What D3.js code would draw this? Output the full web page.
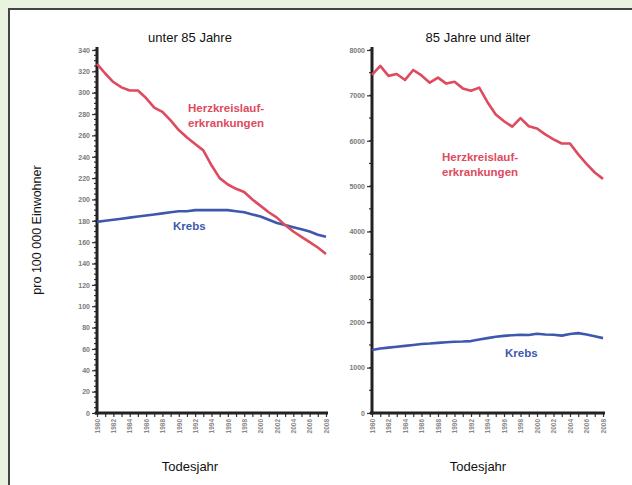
<!DOCTYPE html>
<html><head><meta charset="utf-8">
<script src="https://cdn.jsdelivr.net/npm/d3@7/dist/d3.min.js"></script>
<style>
body{margin:0;background:#e9f3df;}
svg{display:block;font-family:"Liberation Sans",Arial,sans-serif;}
</style></head><body>
<script>
const years = d3.range(1980, 2009);
const yearLabels = d3.range(1980, 2009, 2);
const under85Herz = [327,318,310,305,302,302,295,286,282,274,265,258,252,246,232,220,214,210,207,200,194,188,183,176,170,165,160,155,149];
const under85Krebs = [179,180,181,182,183,184,185,186,187,188,189,189,190,190,190,190,190,189,188,186,184,181,178,176,174,172,170,167,165];
const over85Herz = [7450,7650,7430,7470,7340,7560,7440,7280,7390,7260,7300,7154,7100,7170,6850,6580,6430,6310,6500,6320,6270,6140,6030,5940,5940,5700,5490,5300,5160];
const over85Krebs = [1390,1420,1440,1460,1480,1500,1520,1530,1545,1560,1570,1575,1585,1620,1650,1680,1700,1715,1725,1720,1745,1730,1725,1705,1740,1760,1730,1690,1650];
const leftTicks = d3.range(0, 341, 20);
const rightTicks = d3.range(0, 8001, 1000);

const W = 632, H = 485;
const svg = d3.select("body").append("svg").attr("width", W).attr("height", H);
svg.append("rect").attr("x",0).attr("y",0).attr("width",W).attr("height",H).attr("fill","#e9f3df");
svg.append("rect").attr("x",9).attr("y",9).attr("width",640).attr("height",500)
  .attr("fill","#fff").attr("stroke","#444").attr("stroke-width",2);

const RED = "#de4a5e", BLUE = "#3d58ad";

function panel(cfg){
  const x = d3.scaleLinear().domain([1980, 2008]).range([cfg.x0, cfg.x1]);
  const y = d3.scaleLinear().domain([0, cfg.max]).range([413, 50]);
  const g = svg.append("g");
  const minor = d3.range(0, cfg.max + 1, cfg.minor);
  g.selectAll(".mn").data(minor).join("line")
    .attr("x1", cfg.x0 - 3).attr("x2", cfg.x0).attr("y1", d=>y(d)).attr("y2", d=>y(d))
    .attr("stroke","#333").attr("stroke-width",1.2);
  const ya = d3.axisLeft(y).tickValues(cfg.ticks).tickSize(5).tickPadding(2).tickFormat(d3.format("d"));
  const yg = g.append("g").attr("transform",`translate(${cfg.x0},0)`).call(ya);
  yg.select(".domain").remove();
  yg.selectAll(".tick line").attr("stroke","#333").attr("stroke-width",1.2);
  yg.selectAll(".tick text").attr("fill","#7a7a7a").style("font-size","7px").style("font-weight","bold");
  const xa = d3.axisBottom(x).tickValues(years).tickSize(4).tickFormat(d => yearLabels.includes(d) ? d : "");
  const xg = g.append("g").attr("transform","translate(0,413)").call(xa);
  xg.select(".domain").remove();
  xg.selectAll(".tick line").attr("stroke","#333").attr("stroke-width",1.2);
  xg.selectAll(".tick text").attr("fill","#888").style("font-size","6.5px").style("font-weight","bold")
    .attr("transform","rotate(-90)").attr("text-anchor","end").attr("x",-6).attr("y",0).attr("dy","0.35em");
  g.append("line").attr("x1",cfg.x0).attr("x2",cfg.x0).attr("y1",47).attr("y2",414.5).attr("stroke","#222").attr("stroke-width",3);
  g.append("line").attr("x1",cfg.x0-2).attr("x2",cfg.x1+2).attr("y1",413).attr("y2",413).attr("stroke","#222").attr("stroke-width",3);
  const line = d3.line().x((d,i)=>x(years[i])).y(d=>y(d)).curve(d3.curveLinear);
  g.append("path").attr("d", line(cfg.krebs)).attr("fill","none").attr("stroke",BLUE).attr("stroke-width",2.6).attr("stroke-linejoin","round");
  g.append("path").attr("d", line(cfg.herz)).attr("fill","none").attr("stroke",RED).attr("stroke-width",2.6).attr("stroke-linejoin","round");
  svg.append("text").attr("x",cfg.tx).attr("y",42).attr("text-anchor","middle").style("font-size","13px").attr("fill","#111").text(cfg.title);
  svg.append("text").attr("x",cfg.tx).attr("y",471).attr("text-anchor","middle").style("font-size","13px").attr("fill","#111").text("Todesjahr");
  const ha = svg.append("text").attr("fill",RED).style("font-size","11.5px").style("font-weight","bold");
  ha.append("tspan").attr("x",cfg.hx).attr("y",cfg.hy).text("Herzkreislauf-");
  ha.append("tspan").attr("x",cfg.hx).attr("y",cfg.hy+15).text("erkrankungen");
  svg.append("text").attr("fill",BLUE).style("font-size","11.5px").style("font-weight","bold")
    .attr("x",cfg.kx).attr("y",cfg.ky).text("Krebs");
}

panel({x0:97, x1:326, max:340, ticks:leftTicks, minor:5, herz:under85Herz, krebs:under85Krebs,
  title:"unter 85 Jahre", tx:190, hx:188, hy:112, kx:173, ky:230});
panel({x0:372, x1:603, max:8000, ticks:rightTicks, minor:500, herz:over85Herz, krebs:over85Krebs,
  title:"85 Jahre und älter", tx:478, hx:442, hy:161, kx:505, ky:357});

svg.append("text").attr("transform","translate(41,230) rotate(-90)").attr("text-anchor","middle")
  .style("font-size","12.5px").attr("fill","#111").text("pro 100 000 Einwohner");
</script>
</body></html>
